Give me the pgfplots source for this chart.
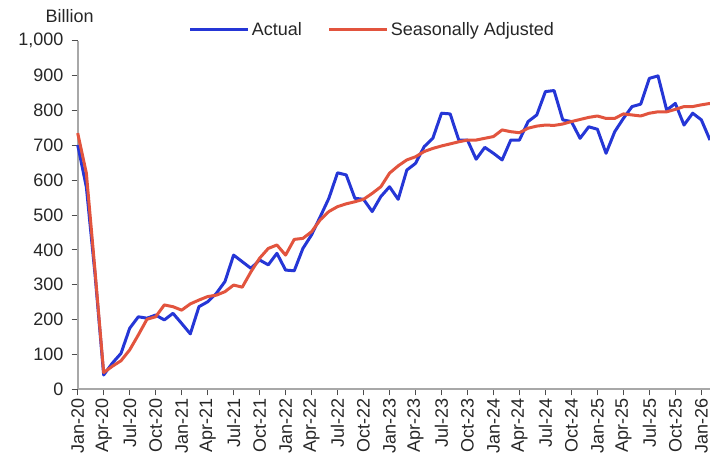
\documentclass[border=0pt]{standalone}
\usepackage{fontspec}
\setmainfont{Liberation Sans}
\usepackage{pgfplots}
\pgfplotsset{compat=1.18}
\usepackage{pgfplotstable}
\definecolor{actualc}{HTML}{2536D6}
\definecolor{sac}{HTML}{E2543E}
\definecolor{axisc}{HTML}{A8A8A8}
\newcommand{\chartfont}{\fontsize{18bp}{21bp}\selectfont}

% month index (0 = Jan-20), actual, seasonally adjusted
\pgfplotstableread{
i actual sa
0 701 735
1 580 620
2 330 340
3 41 48
4 75 66
5 103 82
6 175 113
7 208 156
8 204 201
9 213 208
10 199 242
11 218 237
12 189 227
13 159 245
14 237 256
15 251 266
16 275 270
17 309 280
18 385 299
19 366 293
20 347 337
21 371 376
22 357 404
23 390 414
24 342 385
25 340 430
26 404 433
27 443 452
28 495 486
29 548 510
30 621 524
31 615 532
32 548 538
33 545 545
34 510 562
35 553 581
36 581 620
37 545 641
38 629 658
39 648 667
40 696 682
41 720 691
42 792 698
43 790 704
44 715 710
45 715 715
46 660 715
47 694 720
48 677 725
49 658 744
50 715 739
51 715 736
52 768 749
53 787 755
54 854 758
55 857 757
56 773 761
57 768 768
58 720 774
59 753 780
60 746 784
61 677 777
62 739 777
63 777 790
64 811 787
65 818 784
66 892 792
67 899 796
68 801 796
69 820 803
70 758 811
71 792 811
72 773 816
73 715 820
}\datatable

\begin{document}
\begin{tikzpicture}
\begin{axis}[
    scale only axis, width=632.3bp, height=348.6bp,
    xmin=0, xmax=73, ymin=0, ymax=1000,
    axis lines=left, axis line style={-, axisc, line width=2bp},
    tick align=outside, major tick length=6bp,
    tick style={black!70, line width=0.8bp},
    xtick={0,3,...,72},
    xticklabels={Jan-20,Apr-20,Jul-20,Oct-20,Jan-21,Apr-21,Jul-21,Oct-21,Jan-22,Apr-22,Jul-22,Oct-22,Jan-23,Apr-23,Jul-23,Oct-23,Jan-24,Apr-24,Jul-24,Oct-24,Jan-25,Apr-25,Jul-25,Oct-25,Jan-26},
    xticklabel style={rotate=90, anchor=east, inner sep=1bp, xshift=-2bp},
    ytick={0,100,...,1000},
    yticklabel style={/pgf/number format/1000 sep={,}, inner sep=1bp, xshift=-7bp},
    /pgf/number format/assume math mode=true,
    tick label style={font=\chartfont, text=black!85},
    legend columns=2,
    legend style={draw=none, fill=none, at={(0.466,1.031)}, anchor=center,
        font=\chartfont, text=black!85,
        /tikz/every even column/.append style={column sep=24bp}},
    legend image code/.code={\draw[#1, line width=3bp] (0bp,0bp) -- (58bp,0bp);},
    clip=false,
]
\addplot[actualc, line width=3bp, line join=round] table[x=i, y=actual] {\datatable};
\addlegendentry{Actual}
\addplot[sac, line width=3bp, line join=round] table[x=i, y=sa] {\datatable};
\addlegendentry{Seasonally Adjusted}
\coordinate (o) at (rel axis cs:0,0);
\node[font=\chartfont, text=black!85] at ([xshift=-8bp, yshift=25bp]rel axis cs:0,1) {Billion};
\end{axis}
\pgfresetboundingbox
\path ([xshift=-77.7bp, yshift=-75.7bp]o) rectangle ([xshift=632.3bp, yshift=389.3bp]o);
\end{tikzpicture}
\end{document}
